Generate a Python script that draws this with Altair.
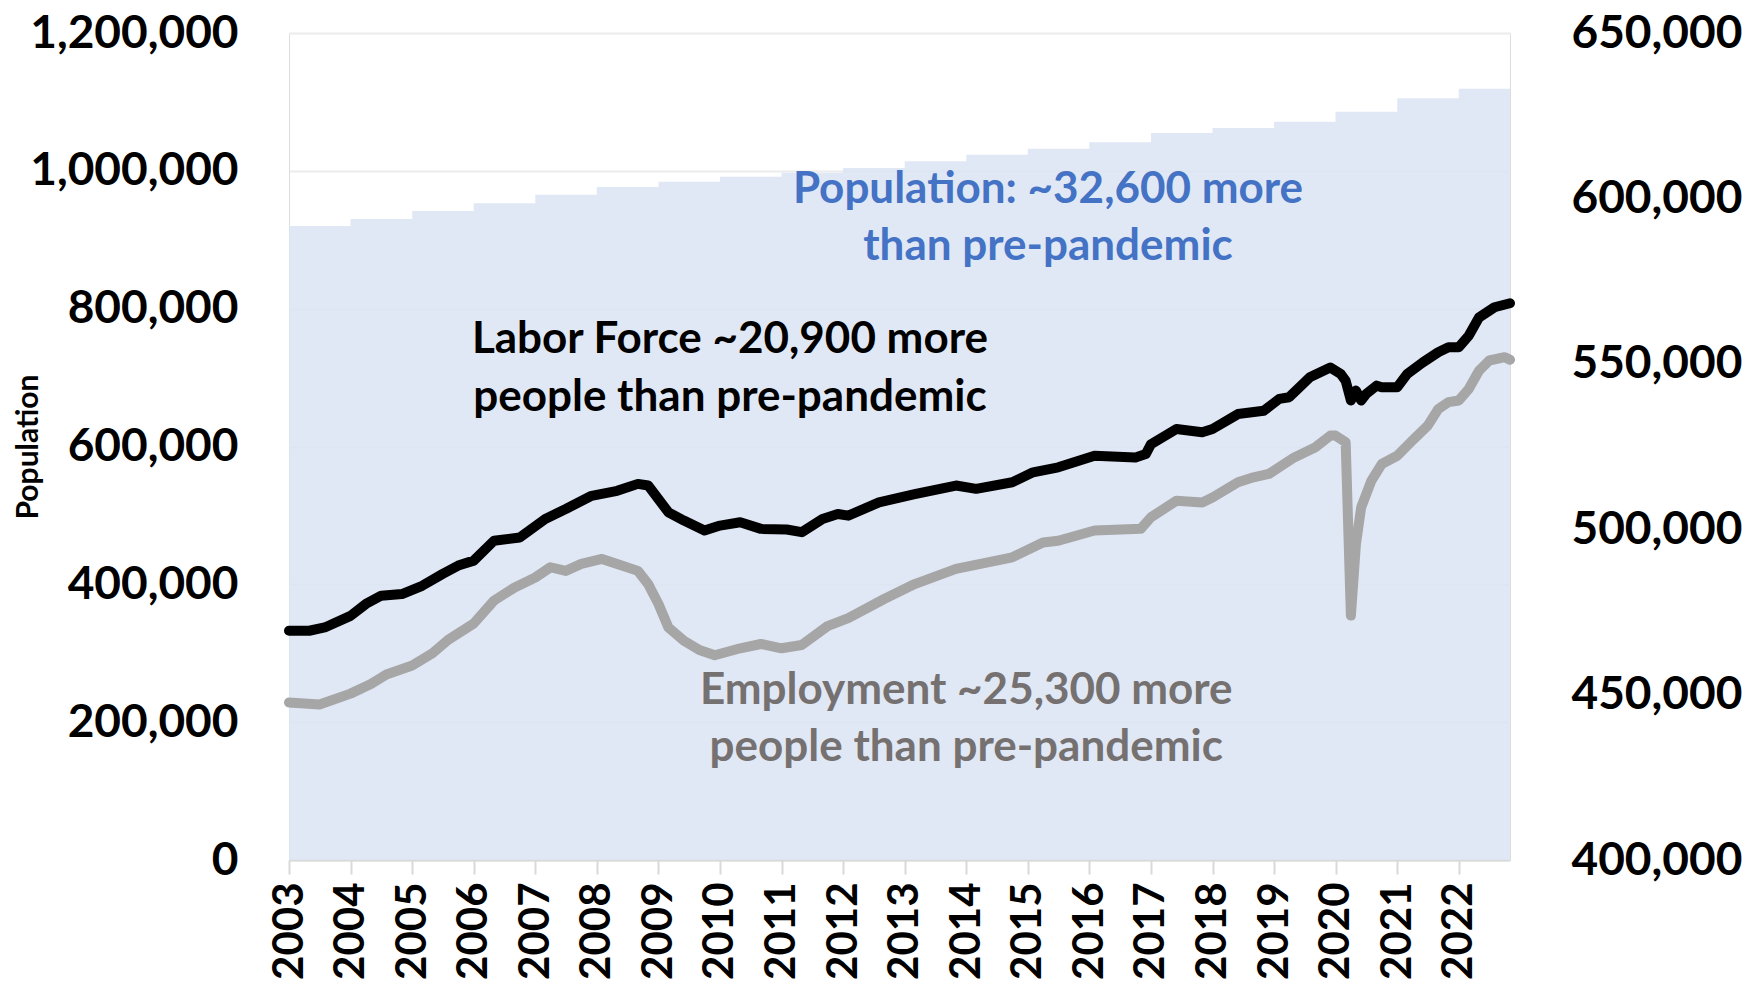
import altair as alt
import pandas as pd

# ---- Population (annual, left axis) ----
pop_years = list(range(2003, 2023))
population = [920000, 930100, 941700, 952900, 965400, 976500, 984200, 991500,
              997300, 1004100, 1013800, 1023400, 1032100, 1041400, 1054900,
              1062100, 1071300, 1085800, 1105200, 1119200]
series_end = "2022-11-01"

# ---- Labor force (right axis) ----
lf_dates = ["2003-01", "2003-05", "2003-08", "2004-01", "2004-04", "2004-07", "2004-11",
            "2005-03", "2005-07", "2005-10", "2006-01", "2006-05", "2006-10", "2007-03",
            "2007-07", "2007-12", "2008-05", "2008-09", "2008-11", "2009-03", "2009-06",
            "2009-10", "2010-01", "2010-05", "2010-09", "2011-02", "2011-05", "2011-09",
            "2011-12", "2012-02", "2012-08", "2013-03", "2013-11", "2014-03", "2014-10",
            "2015-02", "2015-07", "2016-02", "2016-10", "2016-12", "2017-01", "2017-06",
            "2017-11", "2018-01", "2018-06", "2018-11", "2019-02", "2019-04", "2019-08",
            "2019-12", "2020-02", "2020-03", "2020-04", "2020-05", "2020-06", "2020-07",
            "2020-09", "2020-10", "2021-01", "2021-03", "2021-06", "2021-09", "2021-11",
            "2022-01", "2022-03", "2022-05", "2022-08", "2022-11"]
lf_values = [469300, 469300, 470300, 473800, 477400, 479900, 480400,
             482900, 486500, 489000, 490500, 496500, 497500, 503100,
             506100, 510100, 511600, 513700, 513200, 505100, 502600,
             499600, 501100, 502100, 500100, 499900, 499100, 503100,
             504600, 504100, 508100, 510600, 513200, 512200, 514200,
             517200, 518700, 522200, 521700, 522700, 525700, 530300,
             529300, 530300, 534800, 535800, 539400, 539900, 545900,
             548900, 546900, 544900, 538900, 541900, 538900, 540900,
             543400, 542900, 542900, 546900, 550400, 553500, 555000,
             555000, 558500, 564000, 567100, 568300]

# ---- Employment (right axis) ----
emp_dates = ["2003-01", "2003-07", "2004-01", "2004-05", "2004-08", "2005-01", "2005-05",
             "2005-08", "2006-01", "2006-05", "2006-09", "2007-01", "2007-04", "2007-07",
             "2007-10", "2008-02", "2008-05", "2008-09", "2008-11", "2009-01", "2009-03",
             "2009-06", "2009-09", "2009-12", "2010-05", "2010-09", "2011-01", "2011-05",
             "2011-10", "2012-02", "2012-09", "2013-03", "2013-11", "2014-10", "2015-04",
             "2015-07", "2016-02", "2016-11", "2017-01", "2017-06", "2017-11", "2018-01",
             "2018-06", "2018-09", "2018-12", "2019-05", "2019-09", "2019-12", "2020-01",
             "2020-03", "2020-04", "2020-05", "2020-06", "2020-08", "2020-10", "2021-01",
             "2021-04", "2021-07", "2021-09", "2021-11", "2022-01", "2022-03", "2022-05",
             "2022-07", "2022-10", "2022-11"]
emp_values = [447600, 447000, 450300, 453200, 456100, 458800, 462500,
              466500, 471500, 478400, 482400, 485400, 488500, 487400,
              489500, 491000, 489500, 487400, 483400, 477400, 470300,
              466300, 463500, 461900, 464000, 465300, 464000, 465000,
              470700, 473100, 478900, 483400, 488000, 491500, 496000,
              496500, 499600, 500100, 503600, 508600, 508100, 509600,
              514200, 515700, 516700, 521700, 524700, 528300, 528300,
              526300, 473900, 495500, 506600, 514700, 519700, 522200,
              526800, 531300, 536300, 538400, 538900, 542400, 547900,
              551000, 552000, 551200]

# ---- Annotations (positioned on the left axis scale) ----
note_dates = ["2015-05", "2015-05", "2010-03", "2010-03", "2014-01", "2014-01"]
note_values = [972000, 889000, 754000, 670000, 245000, 162000]
note_texts = ["Population: ~32,600 more", "than pre-pandemic",
              "Labor Force ~20,900 more", "people than pre-pandemic",
              "Employment ~25,300 more", "people than pre-pandemic"]
note_colors = ["#4472C4", "#4472C4", "#000000", "#000000", "#767171", "#767171"]

FONT = "Lato"
PLOT_W, PLOT_H = 1221, 827

pop_df = pd.DataFrame({
    "date": [f"{y}-01-01" for y in pop_years] + [series_end],
    "population": population + [population[-1]],
})
lines_df = pd.concat([
    pd.DataFrame({"date": [d + "-01" for d in emp_dates], "value": emp_values, "series": "Employment"}),
    pd.DataFrame({"date": [d + "-01" for d in lf_dates], "value": lf_values, "series": "Labor Force"}),
])
notes_df = pd.DataFrame({"date": [d + "-01" for d in note_dates], "population": note_values,
                         "text": note_texts, "color": note_colors})

x_scale = alt.Scale(type="utc",
                    domain=[alt.DateTime(year=2003, month=1, date=1, utc=True),
                            alt.DateTime(year=2022, month=11, date=1, utc=True)])
x_axis = alt.Axis(format="%Y", tickCount={"interval": "year", "step": 1}, title=None,
                  grid=False, domainColor="#D9D9D9", domainWidth=2, tickColor="#D9D9D9",
                  tickWidth=2, tickSize=14, labelAngle=270, labelFont=FONT,
                  labelFontWeight="bold", labelFontSize=42, labelPadding=8,
                  labelColor="#000000", labelFlush=False, labelOverlap=False)
x_enc = alt.X("date:T", scale=x_scale, axis=x_axis)

left_scale = alt.Scale(domain=[0, 1200000], nice=False)
left_axis = alt.Axis(values=[0, 200000, 400000, 600000, 800000, 1000000, 1200000],
                     format=",.0f", title="Population", grid=True, gridColor="#ECECEC",
                     gridWidth=2, domain=False, ticks=False, labelFont=FONT,
                     labelFontWeight="bold", labelFontSize=46, labelPadding=51,
                     labelLimit=400, labelColor="#000000", titleFont=FONT,
                     titleFontWeight="bold", titleFontSize=30, titleColor="#000000",
                     titleX=-246, titleY=PLOT_H / 2, titleAngle=270, titleAlign="center",
                     titleBaseline="bottom", orient="left")

area = alt.Chart(pop_df).mark_area(interpolate="step-after", color="#DCE4F3", opacity=0.85).encode(
    x=x_enc,
    y=alt.Y("population:Q", scale=left_scale, axis=left_axis),
)
notes = alt.Chart(notes_df).mark_text(font=FONT, fontWeight="bold", fontSize=44,
                                      align="center", baseline="middle").encode(
    x=x_enc,
    y=alt.Y("population:Q", scale=left_scale, axis=left_axis),
    text="text:N",
    color=alt.Color("color:N", scale=None),
)

right_axis = alt.Axis(values=[400000, 450000, 500000, 550000, 600000, 650000], format=",.0f",
                      title=None, grid=False, domain=False, ticks=False, labelFont=FONT,
                      labelFontWeight="bold", labelFontSize=46, labelPadding=61,
                      labelLimit=400, labelColor="#000000", orient="right")
lines = alt.Chart(lines_df).mark_line(strokeWidth=10, strokeJoin="round", strokeCap="round").encode(
    x=x_enc,
    y=alt.Y("value:Q", scale=alt.Scale(domain=[400000, 650000], nice=False), axis=right_axis),
    color=alt.Color("series:N", scale=alt.Scale(domain=["Employment", "Labor Force"],
                                                range=["#A6A6A6", "#000000"]), legend=None),
    order=alt.Order("date:T"),
)

chart = alt.layer(alt.layer(area, notes), lines).resolve_scale(y="independent").properties(
    width=PLOT_W, height=PLOT_H,
    padding={"top": 2, "bottom": 0, "left": 5, "right": 5},
).configure_view(stroke=None).configure(background="white")

chart.save("out.html", embed_options={"renderer": "svg", "actions": False})
